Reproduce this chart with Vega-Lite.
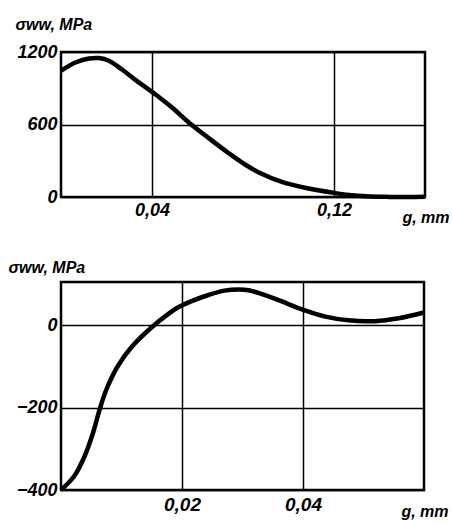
{
  "$schema": "https://vega.github.io/schema/vega-lite/v6.json",
  "padding": {"left": 6, "top": 14, "right": 0, "bottom": 0},
  "background": "white",
  "spacing": 85,
  "bounds": "flush",
  "config": {
    "view": {"stroke": "black", "strokeWidth": 2.5},
    "font": "Liberation Sans",
    "axis": {
      "domain": false,
      "ticks": false,
      "grid": true,
      "gridColor": "black",
      "gridOpacity": 1,
      "gridWidth": 1.5,
      "labelFont": "Liberation Sans",
      "labelFontSize": 18,
      "labelFontStyle": "italic",
      "labelFontWeight": "bold",
      "labelColor": "black",
      "labelFlush": false,
      "labelOverlap": false,
      "titleFont": "Liberation Sans",
      "titleFontSize": 16,
      "titleFontStyle": "italic",
      "titleFontWeight": "bold",
      "titleColor": "black"
    }
  },
  "vconcat": [
    {
      "width": 364,
      "height": 145,
      "data": {
        "values": [
          {"g": 0.0, "s": 1045},
          {"g": 0.0066, "s": 1115},
          {"g": 0.0123, "s": 1146},
          {"g": 0.0167, "s": 1150},
          {"g": 0.0211, "s": 1128},
          {"g": 0.0268, "s": 1055},
          {"g": 0.033, "s": 965},
          {"g": 0.0413, "s": 852},
          {"g": 0.0488, "s": 740},
          {"g": 0.0563, "s": 615},
          {"g": 0.0651, "s": 485},
          {"g": 0.0739, "s": 360},
          {"g": 0.0804, "s": 275},
          {"g": 0.087, "s": 203},
          {"g": 0.0971, "s": 125},
          {"g": 0.109, "s": 70},
          {"g": 0.12, "s": 34},
          {"g": 0.1266, "s": 17},
          {"g": 0.1341, "s": 6},
          {"g": 0.1442, "s": 1},
          {"g": 0.152, "s": 0},
          {"g": 0.16, "s": 2}
        ]
      },
      "mark": {"type": "line", "color": "black", "strokeWidth": 4.5, "interpolate": "catmull-rom"},
      "encoding": {
        "x": {
          "field": "g",
          "type": "quantitative",
          "scale": {"domain": [0, 0.16], "nice": false, "zero": false},
          "axis": {
            "values": [0.04, 0.12],
            "labelExpr": "replace(format(datum.value, '.2f'), '.', ',')",
            "labelPadding": 4,
            "title": "g, mm",
            "titleAlign": "right",
            "titleAnchor": "start",
            "titleX": 388,
            "titleY": 25,
            "titleBaseline": "alphabetic"
          }
        },
        "y": {
          "field": "s",
          "type": "quantitative",
          "scale": {"domain": [0, 1200], "nice": false, "zero": false},
          "axis": {
            "values": [0, 600, 1200],
            "format": "d",
            "labelPadding": 4,
            "title": "σww, MPa",
            "titleAngle": 0,
            "titleAlign": "left",
            "titleAnchor": "start",
            "titleX": -46,
            "titleY": -23,
            "titleBaseline": "alphabetic"
          }
        }
      }
    },
    {
      "width": 363,
      "height": 208,
      "data": {
        "values": [
          {"g": 0.0, "s": -400},
          {"g": 0.0022, "s": -366},
          {"g": 0.0039, "s": -318},
          {"g": 0.0053, "s": -261},
          {"g": 0.0064, "s": -204},
          {"g": 0.0075, "s": -156},
          {"g": 0.0094, "s": -99},
          {"g": 0.0116, "s": -54},
          {"g": 0.0149, "s": -6},
          {"g": 0.0177, "s": 27},
          {"g": 0.0193, "s": 43},
          {"g": 0.0215, "s": 58},
          {"g": 0.0245, "s": 74},
          {"g": 0.027, "s": 84},
          {"g": 0.0293, "s": 87},
          {"g": 0.031, "s": 85},
          {"g": 0.0342, "s": 71},
          {"g": 0.0375, "s": 52},
          {"g": 0.0403, "s": 36},
          {"g": 0.0437, "s": 21},
          {"g": 0.0475, "s": 12},
          {"g": 0.0519, "s": 10},
          {"g": 0.0558, "s": 17},
          {"g": 0.06, "s": 31}
        ]
      },
      "mark": {"type": "line", "color": "black", "strokeWidth": 4.5, "interpolate": "catmull-rom"},
      "encoding": {
        "x": {
          "field": "g",
          "type": "quantitative",
          "scale": {"domain": [0, 0.06], "nice": false, "zero": false},
          "axis": {
            "values": [0.02, 0.04],
            "labelExpr": "replace(format(datum.value, '.2f'), '.', ',')",
            "labelPadding": 5,
            "labelFontSize": 19,
            "title": "g, mm",
            "titleAlign": "right",
            "titleAnchor": "start",
            "titleX": 387,
            "titleY": 26,
            "titleBaseline": "alphabetic"
          }
        },
        "y": {
          "field": "s",
          "type": "quantitative",
          "scale": {"domain": [-400, 105], "nice": false, "zero": false},
          "axis": {
            "values": [-400, -200, 0],
            "format": "d",
            "labelPadding": 4,
            "title": "σww, MPa",
            "titleAngle": 0,
            "titleAlign": "left",
            "titleAnchor": "start",
            "titleX": -53,
            "titleY": -10,
            "titleBaseline": "alphabetic"
          }
        }
      }
    }
  ]
}
